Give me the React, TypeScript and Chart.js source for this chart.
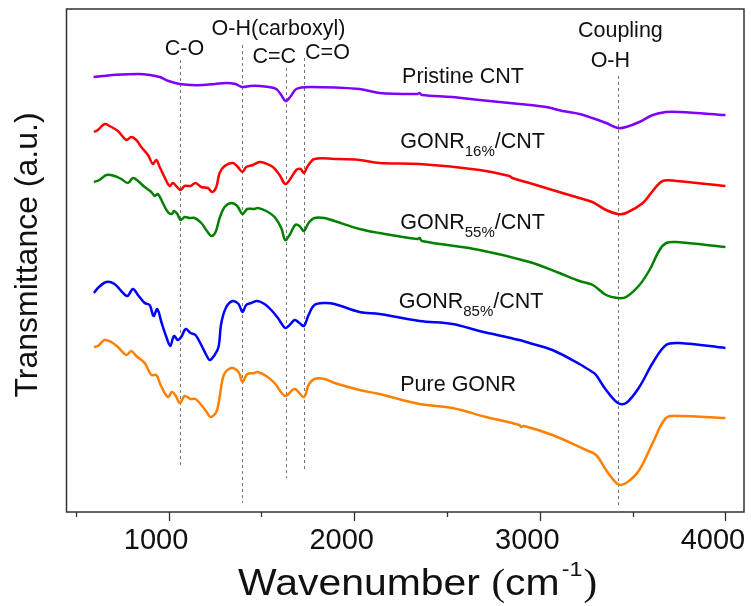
import React, { useEffect, useRef } from "react";
import { Chart, registerables } from "chart.js";

Chart.register(...registerables);

// ---------------- data ----------------
const pristineWn = [596, 646, 700, 835, 900, 952, 1000, 1059, 1120, 1185, 1250, 1311, 1360, 1397, 1440, 1490, 1540, 1580, 1607, 1630, 1655, 1688, 1759, 2029, 2136, 2340, 2352, 2365, 2529, 2675, 2890, 3034, 3122, 3213, 3283, 3357, 3420, 3465, 3536, 3608, 3680, 3752, 4000];
const pristineT = [435, 436, 437, 438, 437, 435, 431, 428, 427, 427, 428, 429, 428, 425, 426, 426, 425, 423, 417, 411, 415, 423, 425, 423, 419, 418, 419, 417, 415, 412, 408, 405, 401, 398, 394, 389, 384, 385, 390, 397, 400, 400, 397];

const gonr16Wn = [598, 619, 655, 682, 727, 772, 799, 826, 853, 889, 915, 934, 952, 978, 1005, 1023, 1041, 1065, 1086, 1118, 1145, 1176, 1212, 1235, 1257, 1275, 1302, 1346, 1373, 1398, 1418, 1454, 1490, 1517, 1562, 1598, 1628, 1652, 1688, 1711, 1729, 1750, 1786, 1894, 2029, 2136, 2352, 2675, 2836, 2852, 2944, 3068, 3213, 3283, 3357, 3420, 3465, 3555, 3608, 3662, 3735, 4000];
const gonr16T = [380, 382, 388, 386, 381, 372, 375, 372, 365, 357, 348, 352, 345, 335, 326, 329, 326, 322, 326, 326, 329, 325, 324, 320, 325, 339, 346, 349, 345, 340, 345, 347, 350, 349, 345, 337, 328, 332, 342, 343, 339, 346, 353, 353, 352, 349, 348, 342, 336, 334, 329, 322, 314, 310, 302, 298, 299, 309, 321, 331, 331, 326];

const gonr55Wn = [598, 628, 665, 709, 745, 781, 808, 835, 871, 907, 925, 942, 969, 996, 1018, 1029, 1047, 1065, 1086, 1113, 1140, 1176, 1203, 1230, 1253, 1275, 1302, 1338, 1370, 1398, 1424, 1463, 1481, 1526, 1571, 1607, 1628, 1652, 1682, 1705, 1729, 1754, 1786, 1840, 1894, 2029, 2136, 2340, 2352, 2365, 2675, 2944, 3105, 3213, 3285, 3357, 3420, 3465, 3537, 3591, 3645, 3681, 3735, 4000];
const gonr55T = [330, 332, 337, 336, 333, 329, 334, 331, 325, 320, 316, 318, 309, 300, 298, 301, 298, 292, 295, 294, 294, 289, 282, 276, 280, 294, 305, 309, 306, 298, 303, 303, 304, 301, 295, 284, 272, 277, 287, 286, 281, 289, 294, 294, 291, 283, 279, 273, 274, 271, 262, 250, 239, 231, 227, 217, 214, 215, 227, 242, 262, 269, 270, 265];

const gonr85Wn = [598, 619, 665, 709, 745, 778, 808, 835, 871, 898, 919, 939, 961, 988, 1009, 1029, 1050, 1068, 1092, 1118, 1145, 1176, 1203, 1222, 1248, 1269, 1284, 1311, 1346, 1377, 1398, 1418, 1445, 1478, 1517, 1553, 1589, 1628, 1652, 1679, 1705, 1729, 1754, 1786, 1840, 1894, 2029, 2136, 2352, 2529, 2675, 2890, 2944, 3068, 3213, 3283, 3303, 3357, 3420, 3465, 3536, 3608, 3680, 3752, 4000];
const gonr85T = [219, 224, 230, 228, 221, 216, 223, 217, 209, 207, 196, 203, 190, 175, 166, 176, 172, 175, 183, 179, 177, 167, 157, 152, 157, 165, 189, 205, 211, 208, 200, 207, 209, 211, 208, 202, 194, 184, 187, 192, 189, 186, 197, 207, 209, 208, 200, 198, 191, 188, 181, 172, 169, 162, 148, 140, 137, 122, 109, 109, 125, 149, 167, 169, 164];

const pureWn = [598, 619, 655, 691, 727, 772, 799, 826, 871, 907, 934, 957, 996, 1018, 1036, 1061, 1086, 1118, 1145, 1176, 1205, 1226, 1257, 1275, 1298, 1338, 1377, 1398, 1424, 1463, 1481, 1526, 1571, 1628, 1679, 1729, 1754, 1786, 1840, 1894, 2029, 2136, 2352, 2529, 2711, 2890, 2900, 2915, 3068, 3249, 3303, 3357, 3420, 3465, 3536, 3608, 3680, 3752, 4000];
const pureT = [165, 166, 172, 170, 165, 157, 161, 156, 149, 137, 137, 127, 115, 120, 117, 109, 116, 113, 113, 107, 100, 95, 100, 115, 137, 144, 140, 130, 138, 139, 140, 136, 129, 116, 123, 115, 127, 133, 133, 129, 122, 118, 108, 104, 95, 87, 85, 86, 77, 62, 57, 42, 28, 29, 42, 69, 94, 96, 94];

const seriesColors = ["#8000ff", "#ff0000", "#008000", "#0000ff", "#ff8000"];

// series labels (main text, subscript, tail)
const labelMain = ["Pristine CNT", "GONR", "GONR", "GONR", "Pure GONR"];
const labelSub = ["", "16%", "55%", "85%", ""];
const labelTail = ["", "/CNT", "/CNT", "/CNT", ""];
const labelWn = [2258, 2248, 2248, 2240, 2248];
const labelY = [429, 364, 283, 204, 121];

// peak assignment dashed lines
const peakWn = [1059, 1398, 1632, 1729, 3420];
const peakTop = [452, 467, 444, 454, 436];
const peakBottom = [45, 9, 34, 42, 7];

// peak annotation texts
const annText = ["C-O", "O-H(carboxyl)", "C=C", "C=O", "Coupling", "O-H"];
const annWn = [1086, 1592, 1569, 1856, 3434, 3380];
const annY = [457, 477, 449, 453, 475, 445];

const xTickValues = [500, 1000, 1500, 2000, 2500, 3000, 3500, 4000];
const xTicksMajor = [1000, 2000, 3000, 4000];

const FONT = "'Liberation Sans', Arial, Helvetica, sans-serif";
const SERIF = "'Liberation Serif', 'Times New Roman', serif";

const decorPlugin = {
  id: "decor",
  beforeDatasetsDraw(chart: any) {
    const { ctx, scales } = chart;
    const x = scales.x;
    const y = scales.y;
    ctx.save();
    ctx.strokeStyle = "#777";
    ctx.lineWidth = 1;
    ctx.setLineDash([3, 3]);
    peakWn.forEach((wn, i) => {
      const px = Math.round(x.getPixelForValue(wn)) + 0.5;
      ctx.beginPath();
      ctx.moveTo(px, y.getPixelForValue(peakTop[i]));
      ctx.lineTo(px, y.getPixelForValue(peakBottom[i]));
      ctx.stroke();
    });
    ctx.restore();
  },
  afterDraw(chart: any) {
    const { ctx, chartArea, scales } = chart;
    const x = scales.x;
    const y = scales.y;
    ctx.save();
    // frame
    ctx.strokeStyle = "#333";
    ctx.lineWidth = 1.5;
    ctx.setLineDash([]);
    ctx.strokeRect(chartArea.left, chartArea.top, chartArea.right - chartArea.left, chartArea.bottom - chartArea.top);
    // tick marks
    ctx.lineWidth = 1.3;
    x.ticks.forEach((t: any) => {
      const px = Math.round(x.getPixelForValue(t.value)) + 0.5;
      const len = xTicksMajor.includes(t.value) ? 9 : 5;
      ctx.beginPath();
      ctx.moveTo(px, chartArea.bottom);
      ctx.lineTo(px, chartArea.bottom + len);
      ctx.stroke();
    });

    ctx.fillStyle = "#111";
    ctx.textBaseline = "alphabetic";
    // series labels
    labelMain.forEach((m, i) => {
      let px = x.getPixelForValue(labelWn[i]);
      const py = y.getPixelForValue(labelY[i]);
      ctx.textAlign = "left";
      ctx.font = `21.5px ${FONT}`;
      ctx.fillText(m, px, py);
      px += ctx.measureText(m).width;
      if (labelSub[i]) {
        ctx.font = `15px ${FONT}`;
        ctx.fillText(labelSub[i], px, py + 8);
        px += ctx.measureText(labelSub[i]).width;
      }
      if (labelTail[i]) {
        ctx.font = `21.5px ${FONT}`;
        ctx.fillText(labelTail[i], px, py);
      }
    });
    // annotations
    ctx.textAlign = "center";
    ctx.font = `21.5px ${FONT}`;
    annText.forEach((t, i) => {
      ctx.fillText(t, x.getPixelForValue(annWn[i]), y.getPixelForValue(annY[i]));
    });

    // y axis title
    ctx.save();
    ctx.translate(36.5, 255);
    ctx.rotate(-Math.PI / 2);
    ctx.font = `32px ${FONT}`;
    ctx.textAlign = "center";
    ctx.fillText("Transmittance (a.u.)", 0, 0);
    ctx.restore();

    // x axis title with superscript
    const base = 595;
    ctx.save();
    ctx.textAlign = "left";
    ctx.font = `37px ${FONT}`;
    const wWord = ctx.measureText("Wavenumber").width;
    const sx = 242 / wWord;
    ctx.translate(238, base);
    ctx.scale(sx, 1);
    let cx = 0;
    ctx.fillText("Wavenumber ", cx, 0);
    cx += ctx.measureText("Wavenumber ").width;
    ctx.font = `37px ${SERIF}`;
    ctx.fillText("(", cx, 0);
    cx += ctx.measureText("(").width;
    ctx.font = `37px ${FONT}`;
    ctx.fillText("cm", cx, 0);
    cx += ctx.measureText("cm").width + 2;
    ctx.font = `21px ${FONT}`;
    ctx.fillText("-1", cx, -19);
    cx += ctx.measureText("-1").width + 1;
    ctx.font = `37px ${SERIF}`;
    ctx.fillText(")", cx, 0);
    ctx.restore();
    ctx.restore();
  },
};

function toPoints(wn: number[], t: number[]) {
  return wn.map((w, i) => ({ x: w, y: t[i] }));
}

export default function App() {
  const ref = useRef<HTMLCanvasElement | null>(null);
  useEffect(() => {
    if (!ref.current) return;
    const seriesData = [
      toPoints(pristineWn, pristineT),
      toPoints(gonr16Wn, gonr16T),
      toPoints(gonr55Wn, gonr55T),
      toPoints(gonr85Wn, gonr85T),
      toPoints(pureWn, pureT),
    ];
    const chart = new Chart(ref.current, {
      type: "line",
      data: {
        datasets: seriesData.map((d, i) => ({
          label: labelMain[i] + labelSub[i] + labelTail[i],
          data: d,
          borderColor: seriesColors[i],
          backgroundColor: seriesColors[i],
          borderWidth: 2.5,
          pointRadius: 0,
          fill: false,
          tension: 0.35,
        })),
      },
      options: {
        animation: false,
        responsive: false,
        devicePixelRatio: 1,
        layout: { padding: { left: 66.5, right: 7, top: 9, bottom: 0 } },
        plugins: { legend: { display: false }, tooltip: { enabled: false } },
        scales: {
          x: {
            type: "linear",
            min: 450,
            max: 4100,
            grid: { display: false, drawTicks: false },
            border: { display: false },
            afterBuildTicks: (scale: any) => {
              scale.ticks = xTickValues.map((v) => ({ value: v }));
            },
            ticks: {
              autoSkip: false,
              maxRotation: 0,
              padding: 12,
              labelOffset: -12.5,
              color: "#111",
              font: { size: 29, family: FONT },
              callback: (v: any) => (xTicksMajor.includes(Number(v)) ? String(v) : ""),
            },
            afterFit: (scale: any) => {
              scale.height = 94;
              scale.paddingLeft = 0;
              scale.paddingRight = 0;
            },
          },
          y: {
            type: "linear",
            display: false,
            min: 0,
            max: 503,
          },
        },
      },
      plugins: [decorPlugin],
    });
    return () => chart.destroy();
  }, []);
  return (
    <div style={{ position: "absolute", left: 0, top: 0, width: 751, height: 606, background: "#fff" }}>
      <canvas ref={ref} width={751} height={606} style={{ width: 751, height: 606 }} />
    </div>
  );
}
